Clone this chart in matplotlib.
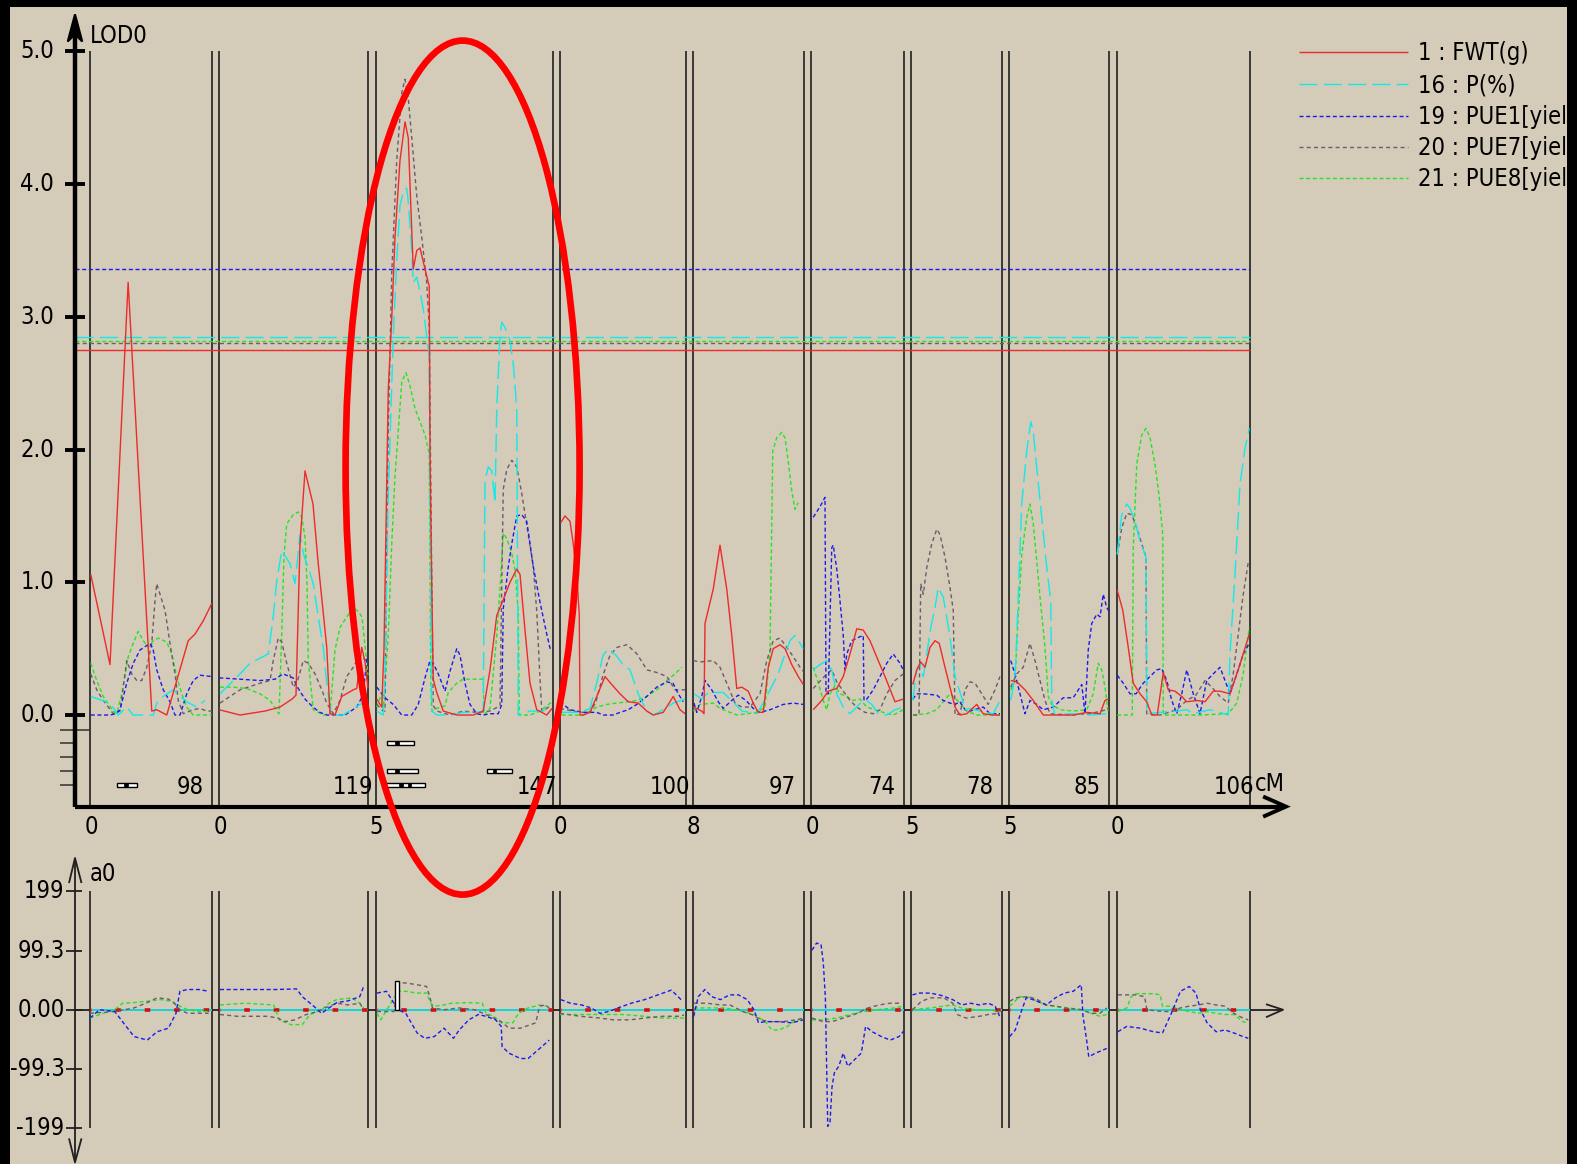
import matplotlib
matplotlib.use("Agg")
import matplotlib.pyplot as plt
from matplotlib import font_manager as fm
from matplotlib.patches import Ellipse, Rectangle, Polygon

plt.rcParams["lines.scale_dashes"] = False
plt.rcParams["lines.solid_capstyle"] = "butt"
plt.rcParams["lines.dash_capstyle"] = "butt"


def pick_narrow_font():
    """Prefer a narrow sans face; fall back to the regular one."""
    names = {f.name for f in fm.fontManager.ttflist}
    if "Liberation Sans Narrow" in names:
        return {"family": ["Liberation Sans Narrow", "DejaVu Sans"]}, 17.5
    for f in fm.fontManager.ttflist:
        fn = f.fname.lower()
        if f.name == "DejaVu Sans" and "condensed" in fn and "bold" not in fn and "oblique" not in fn:
            return {"family": ["DejaVu Sans"], "stretch": "condensed"}, 17.0
    return {"family": ["Liberation Sans", "DejaVu Sans"]}, 16.5


FONT, FS = pick_narrow_font()
plt.rcParams["font.family"] = FONT["family"]
if "stretch" in FONT:
    plt.rcParams["font.stretch"] = FONT["stretch"]

# ---------------------------------------------------------------- genome layout
CHROM_LEN = [97.6, 119.2, 141.6, 100.6, 89.0, 74.3, 72.3, 80.3, 106.6]   # drawn span (cM)
CHROM_GAP = 5.8                                                         # spacer between chromosomes (cM)
CHROM_LABEL = ["98", "119", "147", "100", "97", "74", "78", "85", "106"]
CHROM_FIRST = ["0", "0", "5", "0", "8", "0", "5", "5", "0"]

TRAITS = ["1 : FWT(g)", "16 : P(%)", "19 : PUE1[yield]", "20 : PUE7[yield]", "21 : PUE8[yield]"]
THRESHOLDS = [2.75, 2.85, 3.36, 2.80, 2.82]          # LOD significance level per trait
LOD_TICKS = [0.0, 1.0, 2.0, 3.0, 4.0, 5.0]
A0_TICKS = [199, 99.3, 0.0, -99.3, -199]
A0_TICK_LABELS = ["199", "99.3", "0.00", "-99.3", "-199"]
TRACK_LOD = [-0.528, -0.422, -0.314, -0.213, -0.113]  # interval rows under the LOD axis (FWT, P, PUE1, PUE7, PUE8)

# LOD profiles: (genome position cM, LOD)
FWT_LOD = [(0.6,1.06),(16,0.38),(30.5,3.26),(49.4,0.03),(53.4,0.04),(61.4,0.0),(69.4,0.26),(78.6,0.56),(84,0.61),(90.6,0.71),(97.4,0.84),
    (103.4,0.04),(120,0.0),(140,0.03),(152,0.06),(161.6,0.12),(164.8,0.15),(168,1.29),(172,1.84),(178.4,1.59),(182.4,1.16),(189.4,0.51),(192,0.01),(196,0.0),(201.4,0.14),(210.6,0.19),(213.4,0.2),(217.4,0.51),(220,0.4),(222.4,0.2),
    (229.4,0.12),(233.4,0.06),(235.2,0.5),(238.6,2.45),(241.4,2.99),(244,3.6),(248,4.18),(252,4.47),(254.6,4.35),(256,4.0),(258.6,3.36),(261.4,3.5),(264,3.52),(268,3.36),(271.4,3.23),(272,1.97),(273.4,0.99),(274.6,0.27),(277.4,0.17),(282.6,0.03),(293.4,0.0),(306.6,0.0),(314.6,0.03),(320,0.34),(325.4,0.75),(330.6,0.87),(336,1.0),(341.4,1.1),(344,1.06),(348,0.64),(352,0.24),(357.4,0.04),(365.4,0.0),(369.6,0.05),
    (376.6,1.45),(380,1.5),(384,1.46),(386.6,1.29),(389.4,1.06),(391.4,0.76),(392,0.0),(394.6,0.0),(400,0.02),(405.4,0.14),(412,0.29),(417.4,0.23),(424,0.16),(430.6,0.1),(438.6,0.09),(445.4,0.03),(450.6,0.0),(458.6,0.02),(466.6,0.14),(472,0.04),(476,0.01),
    (482.6,0.06),(489.4,0.03),(491.2,0.01),(492,0.69),(498.6,0.95),(504,1.28),(509.4,0.95),(513.4,0.6),(517.4,0.2),(521.4,0.21),(526.6,0.18),(530.6,0.09),(534.6,0.02),(538.6,0.02),(542.6,0.36),(546.6,0.5),(552,0.53),(556,0.5),(561.4,0.38),(566.6,0.29),(570.6,0.23),
    (578.6,0.04),(585.4,0.11),(590.6,0.18),(597.4,0.2),(602.6,0.29),(608,0.46),(613.4,0.65),(618.6,0.64),(624,0.56),(630.6,0.41),(636,0.29),(644,0.1),(650.6,0.12),
    (658.2,0.23),(661.4,0.34),(664.6,0.4),(668,0.36),(672,0.51),(676,0.56),(679.4,0.54),(684,0.36),(688,0.21),(692,0.06),(696,0.0),(701.4,0.01),(709.4,0.08),(714.6,0.01),(722.6,0.0),(728,0.0),
    (736.6,0.26),(741.4,0.25),(748,0.19),(754.6,0.11),(762.6,0.0),(776,0.0),(786.6,0.0),(797.4,0.02),(808,0.01),(812,0.11),(814.6,0.12),
    (821.8,0.94),(826.2,0.79),(830.6,0.51),(834.6,0.24),(840,0.16),(845.4,0.1),(849.4,0.0),(853.8,0.0),(858.6,0.32),(862.6,0.19),(868,0.18),(873.4,0.14),(877.4,0.1),(885.4,0.11),(892,0.1),(898.6,0.18),(904,0.18),(912,0.16),(920,0.38),(927.4,0.61)]

P_LOD = [(0.6,0.14),(16,0.09),(22.6,0.0),(29.4,0.06),(34.6,0.0),(50.6,0.0),(53.4,0.09),(58.6,0.14),(66.6,0.19),(72,0.14),(77.4,0.1),(85.4,0.06),(92,0.11),
    (104,0.16),(120,0.31),(128,0.39),(142.6,0.46),(146.6,0.74),(149.4,1.01),(153.4,1.24),(160,1.14),(164,0.99),(168,1.36),(171.2,1.2),(174.6,1.11),(178.6,0.99),(182.6,0.74),(186.6,0.51),(189.4,0.24),(192,0.06),(194.6,0.0),(202.6,0.0),(210.6,0.05),(216,0.08),(222.4,0.1),
    (229.4,0.03),(234.6,0.0),(236,0.3),(238.6,1.63),(242.6,2.85),(245.4,3.43),(248,3.84),(250.6,3.94),(253.4,3.97),(254.6,3.87),(257.4,3.5),(258.6,3.26),(261.4,3.3),(264,3.19),(266.6,3.06),(269.4,2.85),(271.2,2.72),(272,1.63),(273.4,0.03),(277.4,0.0),(288,0.0),(298.6,0.02),(309.4,0.02),(314.6,0.03),(316,1.77),(318.6,1.87),(321.4,1.84),(324,1.6),(325.4,2.31),(328,2.85),(329.4,2.96),(332,2.92),(336,2.82),(338.6,2.65),(341.4,2.31),(342.6,0.0),(352,0.03),(362.6,0.03),(368,0.07),
    (376,0.02),(392,0.02),(400,0.05),(405.6,0.25),(410.4,0.45),(414.6,0.5),(420.8,0.45),(426.4,0.38),(432,0.34),(438.6,0.16),(445.4,0.03),(450.6,0.0),(458.6,0.04),(466.6,0.09),(476,0.12),
    (483.2,0.16),(489.4,0.12),(494.6,0.17),(500,0.17),(506.6,0.17),(512,0.12),(517.4,0.07),(521.4,0.03),(528,0.02),(533.4,0.01),(538.6,0.09),(544,0.19),(550.6,0.31),(556,0.46),(560,0.56),(564,0.6),(568,0.54),(570.6,0.5),
    (578.6,0.34),(584,0.38),(589.4,0.41),(593.4,0.34),(597.4,0.16),(602.6,0.06),(608,0.01),(613.4,0.06),(617.4,0.1),(621.4,0.11),(625.4,0.08),(630.6,0.01),(637.4,0.0),(644,0.04),(650.6,0.06),
    (658.2,0.11),(661.4,0.34),(664,0.39),(666.6,0.29),(669.4,0.46),(672.6,0.66),(676,0.81),(678.6,0.96),(682.6,0.89),(688,0.59),(692,0.29),(697.4,0.13),(700,0.04),(704,0.05),(712,0.03),(722.6,0.01),(728,0.11),
    (736.6,0.11),(740,0.29),(741.4,0.59),(745.4,1.59),(749.4,1.99),(752.6,2.21),(754.6,2.14),(757.4,1.86),(761.4,1.49),(765.4,1.11),(768.6,0.86),(769.4,0.11),(772,0.0),(784,0.01),(800,0.0),(814.4,0.01),
    (821.8,1.21),(825.4,1.51),(829.4,1.59),(832,1.56),(836,1.46),(840,1.31),(844.8,1.19),(845.4,0.01),(856,0.02),(869.4,0.03),(877.4,0.04),(882.6,0.01),(896,0.04),(904,0.02),(910.6,0.0),(912,0.46),(916,1.06),(920,1.74),(924,2.01),(927.4,2.16)]

PUE1_LOD = [(0.6,0.0),(16,0.0),(20.8,0.01),(24,0.04),(29.4,0.24),(34.6,0.39),(40,0.49),(48,0.54),(50.4,0.5),(53.4,0.34),(58.6,0.19),(64,0.1),(68,0.0),(72,0.0),(77.4,0.16),(82.6,0.26),(88,0.3),(97.4,0.29),
    (103.4,0.28),(120,0.27),(136,0.26),(148,0.27),(154.4,0.31),(162.4,0.28),(166.6,0.2),(172,0.12),(178.4,0.06),(184,0.02),(189.4,0.0),(204,0.0),(213.4,0.06),(218.4,0.15),(221.6,0.43),
    (229.4,0.21),(236,0.13),(242.6,0.08),(249.4,0.0),(257.4,0.0),(262.6,0.08),(268,0.28),(272,0.41),(274.6,0.39),(278.6,0.31),(284,0.18),(288,0.33),(293.4,0.5),(296,0.45),(300,0.24),(304,0.08),(309.4,0.01),(314.6,0.0),(320,0.01),(326.6,0.01),(329.4,0.08),(330.6,0.8),(334.4,1.1),(337.6,1.3),(341.4,1.5),(345.4,1.51),(349.4,1.46),(354.6,1.12),(360,0.85),(365.4,0.61),(368.6,0.48),
    (376,0.1),(384,0.04),(394.6,0.02),(405.4,0.02),(410.6,0.0),(418.4,0.0),(424,0.02),(430.6,0.04),(437.4,0.08),(445.4,0.14),(453.4,0.21),(461.4,0.25),(466.4,0.24),(470.6,0.16),(474.6,0.1),
    (483.2,0.09),(485.4,0.02),(489.4,0.14),(492,0.26),(497.4,0.19),(502.6,0.1),(506.6,0.05),(513.4,0.11),(518.6,0.15),(524.8,0.11),(530.6,0.05),(536,0.02),(544,0.04),(554.6,0.08),(562.6,0.09),(570.6,0.08),
    (578.6,1.49),(584,1.57),(588,1.64),(588.8,0.16),(590.6,0.16),(593.4,1.26),(594.6,1.28),(597.4,1.1),(600,0.86),(602.6,0.6),(604,0.34),(605.4,0.46),(609.4,0.56),(613.4,0.58),(618.6,0.6),(619.2,0.11),(621.4,0.12),(626.6,0.19),(632,0.29),(637.4,0.39),(642.6,0.46),(648,0.39),(650.6,0.34),
    (658.2,0.12),(661.4,0.16),(666.6,0.16),(677.4,0.15),(682.6,0.11),(688,0.09),(692,0.08),(696,0.1),(700,0.04),(704,0.03),(714.6,0.06),(720,0.01),(728,0.01),
    (736.6,0.41),(740,0.31),(744,0.16),(748,0.01),(752,0.11),(757.4,0.08),(762.6,0.04),(770.6,0.06),(778.6,0.13),(786.6,0.13),(793.4,0.23),(796,0.01),(798.6,0.49),(801.4,0.69),(805.4,0.76),(808,0.74),(810.6,0.91),(813.4,0.81),(815.4,0.78),
    (821.8,0.3),(826.6,0.24),(832,0.16),(836.8,0.16),(842.6,0.24),(848,0.29),(853.4,0.34),(857.4,0.35),(861.4,0.26),(865.4,0.11),(869.4,0.01),(873.4,0.16),(877.4,0.34),(882.6,0.16),(888,0.01),(893.4,0.26),(898.6,0.31),(904,0.36),(908,0.26),(912,0.16),(917.4,0.31),(922.6,0.46),(927.4,0.54)]

PUE7_LOD = [(0.6,0.31),(5.4,0.19),(10.6,0.11),(18.6,0.01),(24,0.03),(29.4,0.41),(33.4,0.31),(37.4,0.26),(41.4,0.26),(45.4,0.36),(49.4,0.54),(52,0.86),(53.4,0.99),(56,0.91),(60,0.79),(64,0.54),(68,0.31),(70.6,0.11),(74.6,0.01),(82.6,0.04),(88,0.05),(93.4,0.03),(97.4,0.03),
    (104,0.09),(120,0.19),(136,0.24),(144,0.26),(146.6,0.41),(150.6,0.58),(153.4,0.55),(157.4,0.39),(162.6,0.21),(165.8,0.25),(170.6,0.41),(174.6,0.39),(180,0.31),(185.4,0.19),(189.4,0.09),(194.6,0.01),(200,0.11),(205.4,0.29),(210.6,0.36),(216,0.45),(222.4,0.4),
    (229.4,0.08),(234.4,0.03),(236,0.03),(237.4,1.3),(238.6,2.14),(241.4,3.33),(245.4,4.18),(249.4,4.69),(252,4.79),(254.6,4.65),(257.4,4.35),(261.4,3.91),(265.4,3.6),(269.4,3.26),(271.4,2.92),(273.4,1.02),(274.6,0.07),(277.4,0.03),(288,0.0),(298.6,0.03),(309.4,0.02),(320,0.03),(328,0.07),(329.4,0.97),(330.6,1.7),(333.4,1.85),(337.4,1.92),(341.4,1.87),(345.4,1.67),(349.4,1.43),(354.6,1.12),(357.4,0.78),(360,0.27),(361.4,0.03),(365.4,0.05),(368,0.07),
    (376,0.05),(392,0.02),(400,0.02),(404.8,0.1),(410.4,0.3),(416,0.45),(421.6,0.51),(429.6,0.53),(437.6,0.46),(445.6,0.34),(453.6,0.32),(461.6,0.29),(468,0.19),(476,0.19),
    (482.6,0.41),(488,0.4),(498.6,0.41),(504,0.36),(509.4,0.24),(516,0.09),(521.4,0.06),(528,0.06),(536,0.16),(541.4,0.41),(546.6,0.56),(552,0.58),(557.4,0.51),(562.6,0.44),(568,0.36),(570.6,0.33),
    (578.6,0.2),(589.4,0.31),(593.4,0.34),(597.4,0.25),(602.6,0.18),(608,0.11),(613.4,0.06),(620,0.02),(626.6,0.01),(632,0.04),(637.4,0.16),(644,0.26),(650.6,0.31),
    (658.6,0.0),(663.2,0.0),(664.6,0.99),(666.6,0.91),(669.4,1.11),(673.4,1.29),(677.4,1.4),(680,1.36),(684,1.19),(688,0.96),(690.6,0.79),(692,0.0),(696,0.01),(700,0.19),(704,0.25),(708,0.24),(713.4,0.16),(718.6,0.08),(724,0.19),(728,0.29),
    (736.6,0.21),(741.4,0.31),(746.6,0.36),(752,0.54),(756,0.41),(760,0.26),(764,0.11),(768,0.01),(784,0.0),(800,0.01),(813.4,0.04),(815.2,0.06),
    (821.8,1.21),(825.4,1.41),(829.4,1.52),(833.4,1.51),(837.4,1.41),(841.4,1.29),(844.8,1.19),(845.4,0.01),(856,0.0),(869.4,0.04),(877.4,0.11),(884.8,0.15),(892,0.26),(897.4,0.21),(904,0.14),(910.6,0.09),(914.6,0.31),(918.6,0.61),(922.6,0.91),(926.6,1.15)]

PUE8_LOD = [(0.6,0.39),(5.4,0.26),(10.6,0.14),(18.6,0.03),(21.4,0.01),(25.4,0.16),(30.6,0.44),(34.6,0.54),(38.6,0.63),(42.6,0.56),(46.6,0.51),(50.6,0.56),(54.6,0.58),(61.4,0.55),(65.4,0.46),(69.4,0.29),(73.4,0.16),(77.4,0.06),(82.6,0.0),(97.4,0.0),
    (104,0.21),(114.6,0.21),(125.4,0.2),(136,0.16),(144,0.11),(151.2,0.01),(153.4,0.61),(155.2,1.2),(157.4,1.44),(162.6,1.51),(166.6,1.53),(169.4,1.49),(172,1.34),(173.6,1.0),(174.6,0.41),(178.6,0.04),(186.6,0.0),(192,0.01),(196,0.49),(200,0.66),(205.4,0.74),(210.6,0.81),(214.6,0.78),(217.6,0.74),(220.8,0.45),(222.4,0.3),
    (229.4,0.06),(233.4,0.17),(234.6,0.03),(238.6,0.6),(241.4,1.29),(244,1.8),(246.6,2.14),(249.4,2.51),(252.8,2.58),(256,2.48),(260,2.31),(264,2.21),(268,2.11),(271.4,1.97),(272.6,0.27),(273.4,0.03),(277.4,0.05),(284,0.07),(286.6,0.17),(293.4,0.24),(298.6,0.27),(314.6,0.27),(315.2,0.0),(320,0.05),(325.4,0.6),(328,0.95),(330.6,1.37),(333.4,1.33),(337.4,1.22),(340,1.09),(342.6,0.78),(343.4,0.0),(352,0.0),(360,0.03),(365.4,0.07),(369.6,0.1),
    (377.4,0.0),(394.6,0.0),(405.4,0.06),(413.4,0.08),(421.4,0.09),(437.4,0.11),(445.4,0.14),(453.4,0.19),(461.4,0.26),(468,0.31),(473.4,0.36),
    (482.6,0.03),(488,0.08),(498.6,0.09),(504,0.05),(517.4,0.0),(533.4,0.02),(540,0.06),(544,0.48),(546.2,1.99),(549.4,2.09),(553.4,2.13),(556,2.09),(558.6,1.91),(561.4,1.69),(564,1.55),(566.6,1.6),
    (578.6,0.36),(582.4,0.25),(586.6,0.11),(589.4,0.04),(592,0.16),(596,0.22),(600,0.16),(605.4,0.14),(610.6,0.11),(616,0.12),(621.4,0.06),(628,0.04),(634.6,0.02),(642.6,0.0),(650.6,0.04),
    (658.2,0.0),(669.4,0.01),(677.4,0.04),(682.6,0.1),(688,0.16),(692,0.13),(696,0.09),(701.4,0.03),(709.4,0.0),(728,0.0),
    (736.6,0.19),(740,0.26),(742.6,0.76),(745.4,1.21),(749.4,1.49),(752,1.59),(754.6,1.44),(757.4,1.16),(760,0.89),(764,0.51),(766.6,0.14),(769.4,0.08),(776,0.04),(786.6,0.03),(797.4,0.04),(802.6,0.16),(806.6,0.39),(809.4,0.34),(812,0.21),(814.6,0.01),
    (821.8,0.0),(833.8,0.0),(834.6,1.26),(837.4,1.89),(841.4,2.11),(844.8,2.16),(848,2.09),(852,1.89),(855.4,1.64),(858.2,1.36),(858.6,0.0),(888,0.0),(910.6,0.01),(917.4,0.09),(922.6,0.31),(927.4,0.66)]

# additive effects a0: (genome position cM, effect)
FWT_A0_LEVEL = [0, 0, 0, 0, 0, 0, 0, 0, 0]
P_A0_LEVEL = [0, 0, 0, 0, 0, 0, 0, 0, 0]

PUE1_A0 = [(0,-14),(7.6,0),(19.8,-3),(26,-20),(35.2,-45),(45.8,-51),(53.6,-37),(62.7,-31),(68.8,-6),(71.9,31),(78,34),(87.2,34),(94.9,31),
    (104,34),(148.4,34),(165.3,35),(169.8,22),(179,6),(185.2,-6),(191.2,3),(197.4,12),(206.6,15),(215.8,22),(218.9,39),
    (229.6,28),(237.2,31),(246.4,0),(252.6,-6),(261.7,-39),(267.8,-48),(275.5,-45),(283.2,-31),(290.8,-48),(295.4,-34),(303,-17),(310.7,-8),(316.8,-11),(324.5,-17),(329,-28),(329.7,-62),(335.2,-73),(344.4,-82),(350.5,-82),(358.2,-68),(367.4,-51),
    (376.6,17),(384.2,11),(393.4,8),(401,3),(408,-6),(415.1,-3),(422.3,3),(433,11),(443.7,17),(454.4,25),(465.1,33),(470.5,22),(474.1,14),
    (483,-11),(486.6,22),(491.9,34),(497.3,22),(504.4,17),(511.6,25),(518.7,25),(525.8,17),(531.2,0),(534.8,-22),(540.2,-20),(550.9,-20),(561.6,-22),(570.5,-17),
    (577.6,100),(581.2,112),(584.8,110),(586.6,80),(588.3,20),(590.2,-196),(592,-190),(593.6,-130),(595.5,-106),(599,-95),(602.6,-73),(606.2,-95),(611.6,-84),(617,-73),(620.5,-28),(625.8,-37),(633,-45),(640.2,-51),(647.3,-45),(650.9,-36),
    (658,25),(663.4,28),(672.3,28),(681.2,24),(690.2,17),(697.3,8),(704.4,11),(711.6,8),(718.7,11),(724.1,6),(727.7,-11),
    (735.8,-45),(740.2,-34),(745.5,0),(749,20),(754.4,17),(765.1,8),(772.3,20),(779.4,28),(786.6,31),(793,42),(794.4,-11),(797.3,-51),(799,-79),(804.4,-73),(813.4,-65),
    (822.3,-37),(829.4,-28),(840.2,-31),(850.9,-37),(858,-39),(865.1,-6),(872.3,31),(879.4,39),(884.8,28),(888.3,0),(893.7,-22),(900.9,-37),(908,-34),(915.1,-39),(922.3,-45),(926.6,-48)]

PUE7_A0 = [(0,-6),(19.8,-3),(35.2,3),(45.8,12),(53.6,20),(62.7,18),(67.3,11),(72,0),(78,-6),(87.2,-6),(94.9,-6),
    (104,-8),(117.8,-11),(142.3,-11),(150,-14),(156.1,-20),(163.8,-17),(173,-8),(182.1,-3),(188,3),(197.4,11),(206.6,8),(215.8,11),(218.9,0),
    (229.6,-3),(243.2,-3),(246.4,45),(252.6,45),(261.7,42),(269.4,39),(272.4,17),(274,3),(283.2,0),(295.4,3),(307.7,0),(316.8,-8),(329,-20),(335.2,-31),(344.4,-31),(356.6,-22),(359.7,6),(364.3,8),(367.4,3),
    (376,-6),(392,-11),(408,-14),(418.7,-17),(432,-17),(443.7,-14),(458,-11),(470.5,-11),(475.2,-9),
    (483,11),(493.6,11),(504.4,8),(512,8),(522.3,-3),(529.4,-8),(536.6,-17),(543.7,-20),(554.4,-20),(565.1,-17),(570.4,-14),
    (577.6,-14),(586.6,-20),(593.6,-20),(602.6,-14),(611.6,-8),(622.3,3),(631.2,8),(640.2,11),(649,11),
    (658,0),(665.1,14),(672.3,20),(683,20),(690.2,11),(693.7,-8),(700.9,-14),(711.6,-11),(718.7,-8),(727.7,-6),
    (735.8,14),(740.2,20),(750.9,22),(758,17),(765.1,8),(772.3,6),(779.4,3),(793.6,0),(800.8,-6),(808,-6),(813.4,3),
    (822.3,25),(836.6,25),(843.7,22),(845.5,0),(858,-3),(865.1,-3),(872.3,3),(879.4,6),(886.6,8),(893.7,11),(900.9,8),(908,6),(915.1,-6),(922.3,-14),(926.6,-17)]

PUE8_A0 = [(0,-14),(10.6,-6),(19.8,0),(26,11),(35.2,12),(44.4,14),(56.6,17),(65.8,14),(71.9,6),(78,0),(87.2,-3),(94.9,-3),
    (104,8),(123.9,11),(146.9,8),(151.5,-17),(160.6,-25),(169.8,-25),(176,-8),(185.2,0),(191.2,11),(197.4,17),(209.7,20),(215.8,11),(218.9,3),
    (229.6,-6),(232.6,-17),(236,-5),(246.4,31),(252.6,31),(261.7,28),(269.4,28),(272.4,11),(275.5,6),(283.2,8),(289.3,11),(301.5,12),(313.8,11),(316.8,-6),(323,-11),(329,-22),(338.2,-22),(342.8,-6),(350.5,3),(359.7,8),(365.8,6),
    (376,-8),(408,-8),(425.6,-8),(443.7,-11),(458,-14),(470.5,-14),(475.2,-14),
    (483,3),(493.6,3),(508,3),(522.3,-3),(531.2,-8),(540.2,-20),(545.5,-34),(550.9,-34),(558,-28),(565.1,-17),(570.4,-17),
    (577.6,-17),(586.6,-17),(597.3,-14),(608,-8),(618.7,-3),(629.4,0),(643.7,3),(650.9,6),
    (658,0),(672.3,3),(683,6),(690.2,8),(697.3,3),(708,0),(718.7,0),(727.7,-3),
    (735.8,6),(743.7,22),(750.9,21),(758,14),(765.1,8),(772.3,6),(783,3),(793.6,0),(800.8,-6),(808,-11),(813.4,-8),
    (822.3,-3),(829.4,3),(833,22),(836.6,27),(850.9,27),(856.2,25),(858,6),(865.1,6),(872.3,0),(879.4,-3),(886.6,-6),(893.7,-3),(900.9,-6),(908,-8),(915.1,-8),(922.3,-20),(926.6,-22)]

# QTL support intervals drawn under the LOD axis: trait index, left, right, peak(s) in cM
QTL_TRAIT = [0, 3, 1, 0, 1]
QTL_LEFT = [21.4, 237.8, 237.2, 236.3, 317.4]
QTL_RIGHT = [37.3, 259.3, 262.6, 267.8, 337.4]
QTL_PEAKS = [[29.0], [245.5], [245.5], [248.6, 255.6], [323.6]]
EFFECT_MARK = (244.2, 247.4, 48.0)   # cM range and a0 height of the marked effect bar

# ---------------------------------------------------------------- styling
W_PX, H_PX = 1577, 1164
BG = "#D5CBB9"
COLORS = ["#EE2A2A", "#10EAEA", "#1A1AF0", "#6B5B6B", "#22E622"]
STYLES = ["-", (0, (13, 4.5)), (0, (2.9, 1.9)), (0, (2.9, 2.3)), (0, (2.9, 1.9))]
CHROM_LINE = "#383838"
XLIM = (-72.0, 1189.6)

starts, pos = [], 0.0
for L in CHROM_LEN:
    starts.append(pos)
    pos += L + CHROM_GAP
ends = [s + L for s, L in zip(starts, CHROM_LEN)]


def by_chrom(pairs):
    for s, e in zip(starts, ends):
        seg = [(x, y) for x, y in pairs if s - 1.0 <= x <= e + 1.0]
        if seg:
            xs, ys = zip(*seg)
            yield xs, ys


fig = plt.figure(figsize=(W_PX / 100, H_PX / 100), dpi=100, facecolor=BG)

ax = fig.add_axes([0, 1 - 806.6 / H_PX, 1, 806.6 / H_PX])
ax.set_xlim(*XLIM)
ax.set_ylim(-0.690, 5.388)
ax.axis("off")

bx = fig.add_axes([0, 0, 1, 314 / H_PX])
bx.set_xlim(*XLIM)
bx.set_ylim(-259.3, 268.5)
bx.axis("off")

ov = fig.add_axes([0, 0, 1, 1])
ov.set_xlim(0, W_PX)
ov.set_ylim(H_PX, 0)
ov.axis("off")

# ---------------------------------------------------------------- LOD panel
y_axis_x = -12.0
x_bottom = -0.690
for s, e in zip(starts, ends):
    for x in (s, e):
        ax.plot([x, x], [x_bottom, 5.0], color=CHROM_LINE, lw=1.4, zorder=2, clip_on=False)

for thr, c, ls in zip(THRESHOLDS, COLORS, STYLES):
    ax.plot([y_axis_x, ends[-1]], [thr, thr], color=c, ls=ls, lw=1.0, zorder=2.5, clip_on=False)

lod_series = [FWT_LOD, P_LOD, PUE1_LOD, PUE7_LOD, PUE8_LOD]
for i in [4, 3, 2, 1, 0]:
    for xs, ys in by_chrom(lod_series[i]):
        ax.plot(xs, ys, color=COLORS[i], ls=STYLES[i], lw=1.0, zorder=3 + (4 - i) * 0.1, clip_on=False)

# axes, ticks and labels
ax.plot([y_axis_x, y_axis_x], [x_bottom, 5.20], color="black", lw=3.2, zorder=5, clip_on=False)
ax.add_patch(Polygon([[y_axis_x, 5.280], [-17.8, 5.075], [y_axis_x, 5.13], [-6.2, 5.075]],
                     closed=True, fc="black", ec="black", lw=1.5, zorder=5, clip_on=False))
ax.plot([y_axis_x, 955.0], [x_bottom, x_bottom], color="black", lw=3.0, zorder=5, clip_on=False)
ax.plot([938.5, 956.8, 938.5], [-0.614, x_bottom, -0.766], color="black", lw=2.8, zorder=5,
        clip_on=False, solid_joinstyle="miter")
for v in LOD_TICKS:
    ax.plot([-20, -4], [v, v], color="black", lw=2.8, zorder=5, clip_on=False)
    ax.text(-28.8, v, f"{v:.1f}", fontsize=FS, ha="right", va="center", zorder=6)
for k, ty in enumerate(TRACK_LOD):
    right = 0.0 if k == len(TRACK_LOD) - 1 else y_axis_x
    ax.plot([-24, right], [ty, ty], color="#303030", lw=1.1, zorder=4, clip_on=False)
ax.text(0.0, 5.117, "LOD0", fontsize=FS, ha="left", va="center")

for s, e, lab, first in zip(starts, ends, CHROM_LABEL, CHROM_FIRST):
    ax.text(e - 28.6, -0.543, lab, fontsize=FS, ha="left", va="center")
    ax.text(s + 0.8, -0.842, first, fontsize=FS, ha="center", va="center")
ax.text(931.8, -0.52, "cM", fontsize=FS, ha="left", va="center")

bh = 0.032
for t, l, r, peaks in zip(QTL_TRAIT, QTL_LEFT, QTL_RIGHT, QTL_PEAKS):
    ty = TRACK_LOD[t]
    ax.add_patch(Rectangle((l, ty - bh / 2), r - l, bh, fc="white", ec="black", lw=1.0, zorder=6, clip_on=False))
    for p in peaks:
        ax.add_patch(Rectangle((p - 1.5, ty - bh / 2), 3.0, bh, fc="black", ec="black", lw=0.5, zorder=7, clip_on=False))

# ---------------------------------------------------------------- effect panel
for s, e in zip(starts, ends):
    for x in (s, e):
        bx.plot([x, x], [-199, 199], color=CHROM_LINE, lw=1.4, zorder=2)

bx.plot([y_axis_x, 954.4], [0, 0], color="#202020", lw=1.3, zorder=2.6)
bx.plot([940.8, 954.4, 940.8], [9.3, 0, -12.6], color="#202020", lw=1.3, zorder=2.6)
bx.plot([y_axis_x, y_axis_x], [-256.7, 255.0], color="#202020", lw=1.3, zorder=2.6, clip_on=False)
bx.plot([-16.8, y_axis_x, -6.8], [213, 255.0, 213], color="#202020", lw=1.3, zorder=2.6, clip_on=False)
bx.plot([-16.8, y_axis_x, -6.8], [-216.3, -256.7, -216.3], color="#202020", lw=1.3, zorder=2.6, clip_on=False)
for v, lab in zip(A0_TICKS, A0_TICK_LABELS):
    bx.plot([-19.2, -6.4], [v, v], color="#202020", lw=1.3, zorder=2.6)
    bx.text(-20.5, v, lab, fontsize=FS, ha="right", va="center")
bx.text(0.0, 228.0, "a0", fontsize=FS, ha="left", va="center")

for s, e, lv in zip(starts, ends, P_A0_LEVEL):
    bx.plot([s, e], [lv, lv], color=COLORS[1], lw=1.3, zorder=2.8)
for s, e, lv in zip(starts, ends, FWT_A0_LEVEL):
    bx.plot([s, e], [lv, lv], color="#D01010", lw=2.6, ls=(3, (4.0, 17.2)), zorder=2.9)

a0_series = [None, None, PUE1_A0, PUE7_A0, PUE8_A0]
for i in [4, 3, 2]:
    for xs, ys in by_chrom(a0_series[i]):
        bx.plot(xs, ys, color=COLORS[i], ls=STYLES[i], lw=1.0, zorder=3 + (4 - i) * 0.1)

l, r, h = EFFECT_MARK
bx.add_patch(Rectangle((l, 0), r - l, h, fc="white", ec="black", lw=1.0, zorder=6))

# ---------------------------------------------------------------- legend
leg_y = [52.3, 84.0, 115.7, 146.9, 178.3]
for name, c, ls, y in zip(TRAITS, COLORS, STYLES, leg_y):
    ov.plot([1299, 1408], [y, y], color=c, ls=ls, lw=1.0)
    ov.text(1418, y + 1, name, fontsize=FS, ha="left", va="center")

# highlighted region on chromosome 3
ov.add_patch(Ellipse((462.6, 467.6), 234, 854, fill=False, ec="#FF0000", lw=4.8, zorder=10))

# window frame
for rect in [(0, 0, W_PX, 7), (0, 0, 10, H_PX), (1567, 0, 10, H_PX)]:
    ov.add_patch(Rectangle(rect[:2], rect[2], rect[3], fc="black", ec="none", zorder=20))

fig.savefig("out.png", dpi=100, facecolor=BG)
